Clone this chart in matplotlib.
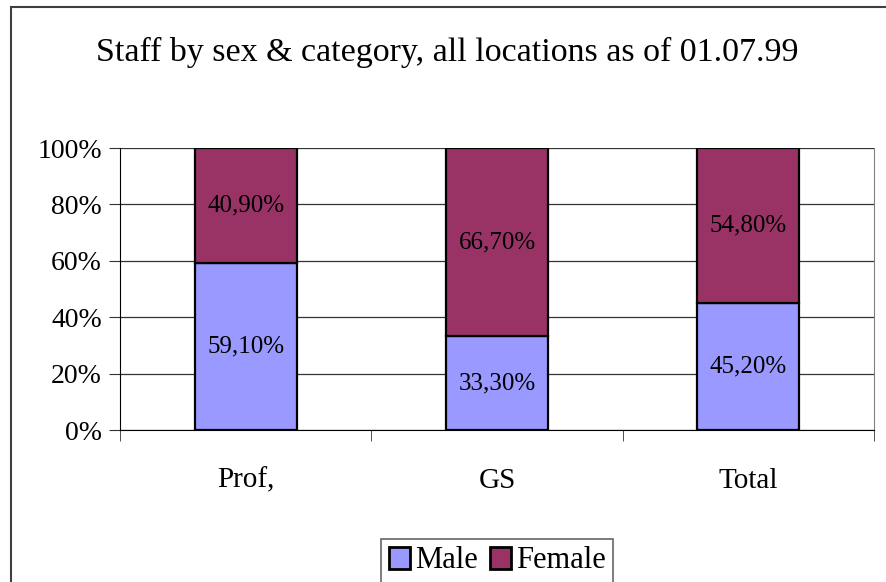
import numpy as np
import matplotlib.pyplot as plt
from matplotlib.patches import Rectangle

# data
categories = ['Prof,', 'GS', 'Total']
male = [59.1, 33.3, 45.2]
female = [40.9, 66.7, 54.8]
male_labels = ['59,10%', '33,30%', '45,20%']
female_labels = ['40,90%', '66,70%', '54,80%']

plt.rcParams['font.family'] = ['Liberation Serif', 'DejaVu Serif']

fig = plt.figure(figsize=(8.86, 5.82), dpi=100)
ax = fig.add_axes([120/886, 1-430/582, 754/886, 282/582])

# outer chart frame
fig.patches.append(Rectangle((11/886, -0.05), 1.0, 1-7/582+0.05,
                             transform=fig.transFigure, fill=False,
                             edgecolor='#404040', linewidth=1.5))

x = np.arange(len(categories))
w = 0.405
b1 = ax.bar(x, male, w, color='#9999FF', edgecolor='black', linewidth=1.6, zorder=3)
b2 = ax.bar(x, female, w, bottom=male, color='#993366', edgecolor='black', linewidth=1.6, zorder=3)

for i in range(len(categories)):
    ax.text(x[i], male[i]/2, male_labels[i], ha='center', va='center', fontsize=18, zorder=4)
    ax.text(x[i], male[i] + female[i]/2, female_labels[i], ha='center', va='center', fontsize=18, zorder=4)

ax.set_xlim(-0.5, 2.5)
ax.set_ylim(0, 100)
ax.set_yticks(np.arange(0, 101, 20))
ax.set_yticklabels([f'{v}%' for v in range(0, 101, 20)], fontsize=20)
ax.yaxis.grid(True, color='#333333', linewidth=0.9, zorder=0)
ax.set_xticks(x)
ax.set_xticklabels(categories, fontsize=21)
ax.tick_params(axis='x', length=0, pad=27)
ax.set_xticks([-0.5, 0.5, 1.5, 2.5], minor=True)
ax.tick_params(axis='x', which='minor', length=8, direction='out', color='#333333')
ax.tick_params(axis='y', length=8, direction='out', color='#333333', pad=5)

ax.spines['top'].set_visible(False)
ax.spines['right'].set_color('#808080')
ax.spines['left'].set_color('black')
ax.spines['bottom'].set_color('black')

fig.text(447/886, 1-52/582, 'Staff by sex & category, all locations as of 01.07.99',
         ha='center', va='center', fontsize=24.5)

leg = fig.legend([b1, b2], ['Male', 'Female'], loc='center', bbox_to_anchor=(497/886, 1-561/582),
                 ncol=2, fontsize=22, frameon=True, fancybox=False, edgecolor='#404040',
                 handlelength=0.7, handleheight=0.7, handletextpad=0.15, columnspacing=0.4,
                 borderpad=0.25, borderaxespad=0)
leg.get_frame().set_linewidth(1.2)
for h in leg.legend_handles:
    h.set_linewidth(2.0)

plt.savefig('out.png', dpi=100)
